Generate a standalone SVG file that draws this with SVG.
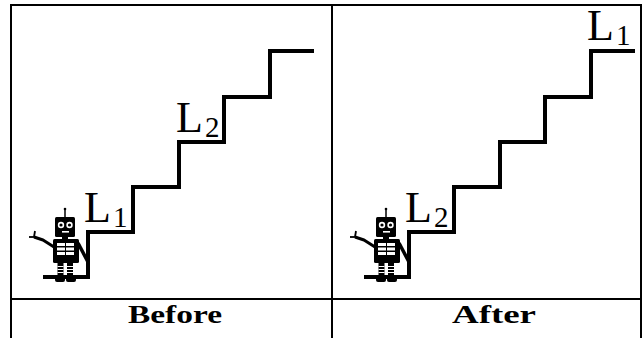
<svg xmlns="http://www.w3.org/2000/svg" xmlns:xlink="http://www.w3.org/1999/xlink" width="642" height="338" viewBox="0 0 642 338">
  <style>
    .rule { stroke: #000; stroke-width: 2; fill: none; }
    .stair { stroke: #000; stroke-width: 4; fill: none; stroke-linejoin: miter; stroke-linecap: butt; }
    .lbl { font-family: "Liberation Serif", "Times New Roman", serif; fill: #000; }
    .big { font-size: 44px; }
    .sub { font-size: 29px; }
    .head { font-family: "Liberation Serif", "Times New Roman", serif; font-weight: bold; font-size: 25px; fill: #000; }
  </style>
  <defs>
    <!-- little robot standing at the foot of the stairs -->
    <g id="robot">
      <line x1="65" y1="209" x2="65" y2="217" stroke="#000" stroke-width="1.5"/>
      <circle cx="65" cy="209" r="1.3" fill="#000"/>
      <rect x="55" y="217" width="20" height="20" rx="1.5" fill="#000"/>
      <circle cx="61" cy="225" r="3.2" fill="#fff"/>
      <circle cx="69.5" cy="225" r="3.2" fill="#fff"/>
      <circle cx="61" cy="225" r="1.6" fill="#000"/>
      <circle cx="69.5" cy="225" r="1.6" fill="#000"/>
      <rect x="62" y="231" width="7" height="1.6" fill="#fff"/>
      <rect x="62" y="236" width="6" height="4" fill="#000"/>
      <rect x="53" y="239" width="26" height="24" rx="1.5" fill="#000"/>
      <rect x="57" y="243" width="8" height="3" fill="#fff"/>
      <rect x="66" y="243" width="8" height="3" fill="#fff"/>
      <rect x="57" y="247.5" width="8" height="3" fill="#fff"/>
      <rect x="66" y="247.5" width="8" height="3" fill="#fff"/>
      <rect x="57" y="252" width="8" height="3" fill="#fff"/>
      <rect x="66" y="252" width="8" height="3" fill="#fff"/>
      <polyline points="34,237 43,240 54,247" fill="none" stroke="#000" stroke-width="3" stroke-linejoin="round"/>
      <line x1="34" y1="237" x2="35" y2="231" stroke="#000" stroke-width="1.8"/>
      <line x1="34" y1="237" x2="29" y2="237" stroke="#000" stroke-width="1.8"/>
      <line x1="78" y1="243" x2="88" y2="262" stroke="#000" stroke-width="3.5"/>
      <rect x="57.5" y="263" width="6" height="12" fill="#000"/>
      <rect x="67" y="263" width="6" height="12" fill="#000"/>
      <rect x="57.5" y="266" width="6" height="1" fill="#fff"/>
      <rect x="57.5" y="269" width="6" height="1" fill="#fff"/>
      <rect x="57.5" y="272" width="6" height="1" fill="#fff"/>
      <rect x="67" y="266" width="6" height="1" fill="#fff"/>
      <rect x="67" y="269" width="6" height="1" fill="#fff"/>
      <rect x="67" y="272" width="6" height="1" fill="#fff"/>
      <rect x="55" y="275" width="10" height="7" rx="2" fill="#000"/>
      <rect x="66" y="275" width="10" height="7" rx="2" fill="#000"/>
    </g>
  </defs>

  <!-- table rules -->
  <g id="table">
    <line class="rule" x1="10" y1="5" x2="642" y2="5"/>
    <line class="rule" x1="10" y1="299" x2="642" y2="299"/>
    <line class="rule" x1="11" y1="4" x2="11" y2="338"/>
    <line class="rule" x1="332" y1="4" x2="332" y2="338"/>
    <line class="rule" x1="641" y1="4" x2="641" y2="338"/>
  </g>

  <!-- left panel -->
  <g id="before">
    <path class="stair" d="M43,277 H88 V232 H133 V187 H179 V142 H224 V97 H270 V51 H314"/>
    <use xlink:href="#robot"/>
    <text class="lbl big" x="84" y="222">L</text>
    <text class="lbl sub" x="113" y="227">1</text>
    <text class="lbl big" x="176" y="132">L</text>
    <text class="lbl sub" x="205" y="137">2</text>
    <text class="head" x="175" y="323" text-anchor="middle" textLength="94" lengthAdjust="spacingAndGlyphs">Before</text>
  </g>

  <!-- right panel -->
  <g id="after">
    <path class="stair" d="M364,277 H409 V232 H454 V187 H500 V142 H545 V97 H591 V51 H635"/>
    <use xlink:href="#robot" transform="translate(321,0)"/>
    <text class="lbl big" x="405" y="222">L</text>
    <text class="lbl sub" x="434" y="227">2</text>
    <text class="lbl big" x="587" y="40">L</text>
    <text class="lbl sub" x="616" y="45">1</text>
    <text class="head" x="494" y="323" text-anchor="middle" textLength="84" lengthAdjust="spacingAndGlyphs">After</text>
  </g>
</svg>
